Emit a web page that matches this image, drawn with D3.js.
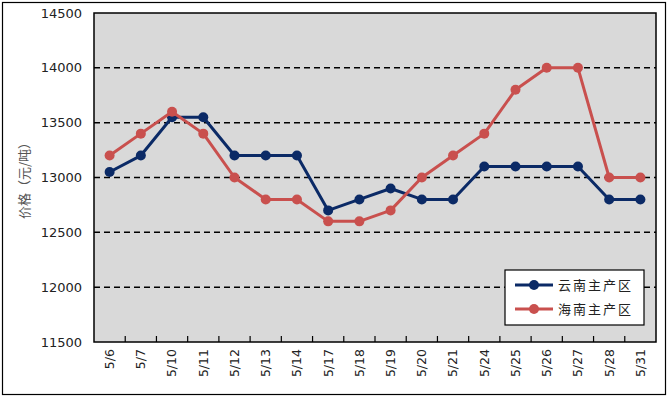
<!DOCTYPE html>
<html lang="zh">
<head>
<meta charset="utf-8">
<title>价格</title>
<script src="https://d3js.org/d3.v7.min.js"></script>
<style>
  body { margin: 0; background: #fff; }
  svg { font-family: "DejaVu Sans", "Noto Sans", sans-serif; }
</style>
</head>
<body>
<svg id="chart"></svg>
<script>
// data
const dates = ["5/6","5/7","5/10","5/11","5/12","5/13","5/14","5/17","5/18","5/19","5/20","5/21","5/24","5/25","5/26","5/27","5/28","5/31"];
const yunnan = [13050,13200,13550,13550,13200,13200,13200,12700,12800,12900,12800,12800,13100,13100,13100,13100,12800,12800];
const hainan = [13200,13400,13600,13400,13000,12800,12800,12600,12600,12700,13000,13200,13400,13800,14000,14000,13000,13000];
const yTicks = [11500,12000,12500,13000,13500,14000,14500];
const seriesNames = ["云南主产区", "海南主产区"];
const colors = ["#0b2a66", "#c9504e"];

const W = 668, H = 398;
const margin = { top: 13, right: 12, bottom: 56, left: 94 };
const width = W - margin.left - margin.right;
const height = H - margin.top - margin.bottom;

const svg = d3.select("#chart").attr("width", W).attr("height", H);

// outer frame
svg.append("rect").attr("x", 2.5).attr("y", 2.5).attr("width", W - 5).attr("height", H - 6)
  .attr("fill", "#fff").attr("stroke", "#000").attr("stroke-width", 1.2);

const g = svg.append("g").attr("transform", `translate(${margin.left},${margin.top})`);

const x = d3.scaleBand().domain(dates).range([0, width]);
const y = d3.scaleLinear().domain([11500, 14500]).range([height, 0]);

g.append("rect").attr("width", width).attr("height", height).attr("fill", "#d9d9d9");

// dashed gridlines
g.selectAll(".grid").data(yTicks.filter(d => d > 11500 && d < 14500)).enter()
  .append("line")
  .attr("x1", 0).attr("x2", width)
  .attr("y1", d => y(d)).attr("y2", d => y(d))
  .attr("stroke", "#000").attr("stroke-width", 1.5).attr("stroke-dasharray", "6,4");

// y axis labels
g.selectAll(".ylab").data(yTicks).enter().append("text")
  .attr("x", -12).attr("y", d => y(d)).attr("dy", "0.35em")
  .attr("text-anchor", "end").attr("font-size", 13).attr("fill", "#222")
  .text(d => d);

// x ticks at band boundaries (pointing inward)
g.selectAll(".xtick").data(dates.slice(1)).enter().append("line")
  .attr("x1", d => x(d)).attr("x2", d => x(d))
  .attr("y1", height).attr("y2", height - 6)
  .attr("stroke", "#000").attr("stroke-width", 1.2);

// x labels rotated
g.selectAll(".xlab").data(dates).enter().append("text")
  .attr("transform", d => `translate(${x(d) + x.bandwidth() / 2},${height + 7}) rotate(-90)`)
  .attr("dy", "0.35em").attr("text-anchor", "end")
  .attr("font-size", 12.5).attr("fill", "#222")
  .text(d => d);

// plot border
g.append("rect").attr("width", width).attr("height", height)
  .attr("fill", "none").attr("stroke", "#000").attr("stroke-width", 1.5);

// y axis title
svg.append("text")
  .attr("transform", `translate(24,${margin.top + height / 2}) rotate(-90)`)
  .attr("text-anchor", "middle").attr("dy", "0.35em")
  .attr("font-family", "'Noto Sans CJK SC', sans-serif")
  .attr("font-size", 13).attr("fill", "#555")
  .text("价格（元/吨）");

// series
const cx = d => x(d) + x.bandwidth() / 2;
const line = d3.line().x((d, i) => cx(dates[i])).y(d => y(d));

[yunnan, hainan].forEach((vals, k) => {
  g.append("path").datum(vals)
    .attr("d", line).attr("fill", "none")
    .attr("stroke", colors[k]).attr("stroke-width", 3).attr("stroke-linejoin", "round");
  g.selectAll(".pt" + k).data(vals).enter().append("circle")
    .attr("cx", (d, i) => cx(dates[i])).attr("cy", d => y(d))
    .attr("r", 5).attr("fill", colors[k]);
});

// legend
const lg = svg.append("g").attr("transform", "translate(505,270)");
lg.append("rect").attr("width", 139).attr("height", 55)
  .attr("fill", "#fff").attr("stroke", "#000").attr("stroke-width", 1.2);
seriesNames.forEach((name, k) => {
  const yy = 15 + k * 24;
  lg.append("line").attr("x1", 10).attr("x2", 48).attr("y1", yy).attr("y2", yy)
    .attr("stroke", colors[k]).attr("stroke-width", 3);
  lg.append("circle").attr("cx", 29).attr("cy", yy).attr("r", 5).attr("fill", colors[k]);
  lg.append("text").attr("x", 53).attr("y", yy).attr("dy", "0.35em")
    .attr("font-family", "'Noto Sans CJK SC', sans-serif")
    .attr("font-size", 13).attr("letter-spacing", 2).attr("fill", "#222")
    .text(name);
});
</script>
</body>
</html>
